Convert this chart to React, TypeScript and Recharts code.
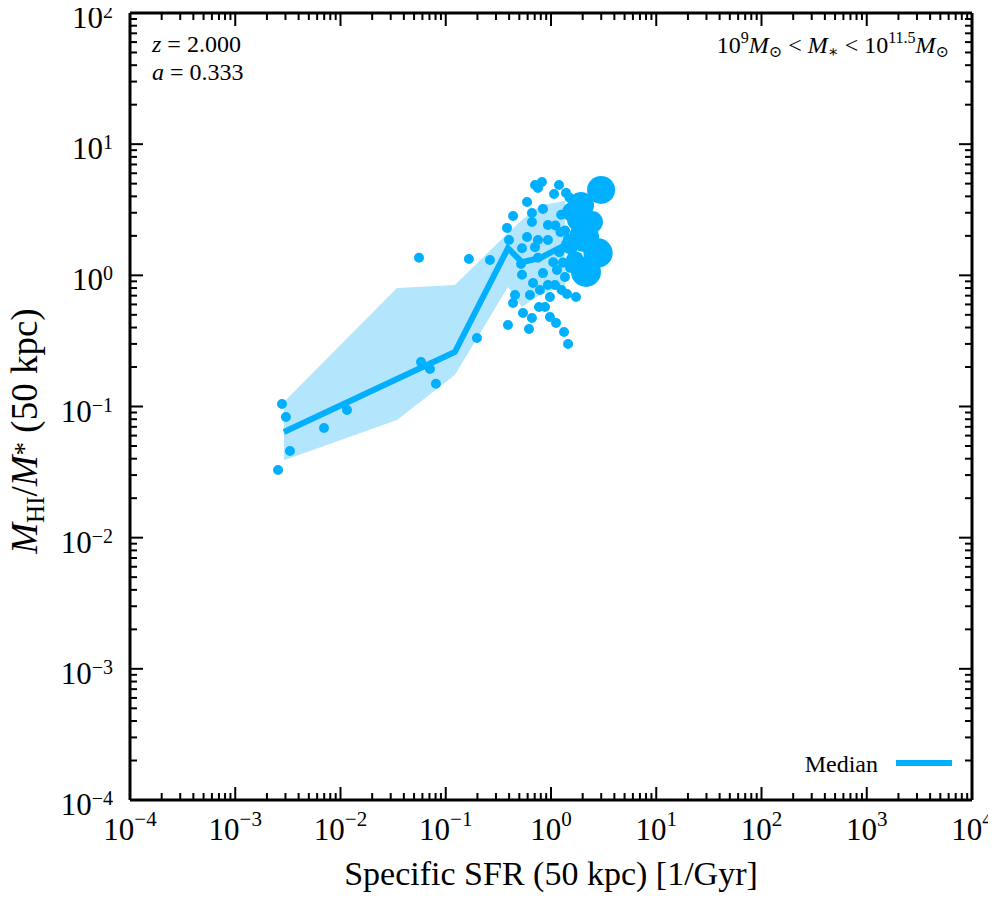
import React from 'react';
import { ComposedChart, XAxis, YAxis, ZAxis, Area, Line, Scatter } from 'recharts';

// ---- axis ticks ----
const X_MAJOR = [1e-4, 1e-3, 1e-2, 1e-1, 1, 10, 100, 1000, 10000];
const Y_MAJOR = [1e-4, 1e-3, 1e-2, 1e-1, 1, 10, 100];
const MINOR_MULT = [2, 3, 4, 5, 6, 7, 8, 9];

// ---- median and 16-84 band ----
const MEDIAN_SSFR = [0.0029, 0.0344, 0.122, 0.39, 0.53, 0.79, 1.36];
const MEDIAN_HI = [0.064, 0.162, 0.26, 1.61, 1.26, 1.36, 1.7];
const BAND_LO = [0.039, 0.079, 0.174, 0.815, 0.574, 0.71, 0.84];
const BAND_HI = [0.108, 0.8, 0.843, 2.1, 2.64, 3.4, 3.7];

// ---- individual galaxies ----
const GAL_SSFR = [
  0.00278, 0.00303, 0.00331, 0.00255, 0.00697, 0.01153, 0.0582, 0.0708, 0.0807, 0.0557,
  0.166, 0.263, 0.198, 0.399, 0.39, 0.436, 0.705, 0.82, 0.752, 1.191,
  1.069, 1.389, 0.592, 0.436, 0.659, 0.839, 0.659, 0.382, 0.592, 0.53,
  0.752, 0.935, 0.705, 0.519, 0.752, 0.839, 0.53, 1.14, 1.358, 0.675,
  0.935, 0.785, 1.091, 0.631, 0.455, 0.977, 1.419, 1.728, 0.769, 0.877,
  0.542, 0.659, 0.977, 1.116, 0.618, 1.33, 1.452, 1.25, 1.36, 1.2,
  1.3, 1.1, 1.5, 1.45, 0.935, 1.23, 1.05, 1.26, 1.517,
  1.585, 1.517, 2.45, 1.69,
  2.99, 1.928, 1.806, 2.06, 2.8, 2.15,
];
const GAL_HI = [
  0.1045, 0.0832, 0.0458, 0.0328, 0.0686, 0.094, 0.218, 0.193, 0.149, 1.36,
  1.33, 1.31, 0.333, 1.86, 0.418, 0.615, 4.89, 5.15, 4.63, 4.89,
  4.17, 4.25, 3.62, 2.83, 2.99, 3.21, 2.55, 2.3, 1.96, 1.61,
  1.86, 1.86, 1.64, 1.22, 1.36, 1.04, 1.01, 1.1, 0.97, 0.875,
  0.843, 0.773, 0.843, 0.708, 0.708, 0.684, 0.721, 0.684, 0.574, 0.574,
  0.516, 0.473, 0.481, 0.434, 0.39, 0.37, 0.3, 2.9, 2.2, 1.5,
  1.25, 2.4, 3.9, 1.9, 2.42, 2.14, 1.26, 0.773, 1.14,
  3.04, 1.7, 2.55, 1.31,
  4.48, 3.44, 2.64, 1.96, 1.48, 1.06,
];
const GAL_WEIGHT = [
  1, 1, 1, 1, 1, 1, 1, 1, 1, 1,
  1, 1, 1, 1, 1, 1, 1, 1, 1, 1,
  1, 1, 1, 1, 1, 1, 1, 1, 1, 1,
  1, 1, 1, 1, 1, 1, 1, 1, 1, 1,
  1, 1, 1, 1, 1, 1, 1, 1, 1, 1,
  1, 1, 1, 1, 1, 1, 1, 1, 1, 1,
  1, 1, 1, 1, 1, 1, 1, 1, 1,
  4.4, 3.5, 5.3, 3.5,
  8.7, 7.5, 5.3, 10, 9.5, 10,
];

const medianData = MEDIAN_SSFR.map((x, i) => ({ x, y: MEDIAN_HI[i] }));
const bandData = MEDIAN_SSFR.map((x, i) => ({ x, band: [BAND_LO[i], BAND_HI[i]] }));
const galaxyData = GAL_SSFR.map((x, i) => ({ x, y: GAL_HI[i], z: GAL_WEIGHT[i] }));

const withMinor = (major: number[]) => {
  const out: number[] = [];
  major.forEach((m, i) => {
    out.push(m);
    if (i < major.length - 1) MINOR_MULT.forEach((k) => out.push(m * k));
  });
  return out;
};
const X_TICKS = withMinor(X_MAJOR);
const Y_TICKS = withMinor(Y_MAJOR);

const DOT = '#00B0FF';
const BAND = '#B3E5FC';
const FONT = '"Liberation Serif", "DejaVu Serif", "Times New Roman", serif';
const MAJOR_LEN = 13;
const MINOR_LEN = 7;

const isMajor = (v: number) => {
  const l = Math.log10(v);
  return Math.abs(l - Math.round(l)) < 1e-6;
};
const expStr = (v: number) => {
  const n = Math.round(Math.log10(v));
  return n < 0 ? '\u2212' + Math.abs(n) : String(n);
};

const PowLabel = ({ x, y, v, anchor, rise, sup }: any) => (
  <text x={x} y={y} textAnchor={anchor} fontFamily={FONT} fontSize={31} fill="#000">
    10
    <tspan dy={-rise} fontSize={sup}>
      {expStr(v)}
    </tspan>
  </text>
);

const BottomTick = (props: any) => {
  const { x, y, payload } = props;
  const v = payload.value;
  const major = isMajor(v);
  return (
    <g>
      <line x1={x} x2={x} y1={y} y2={y - (major ? MAJOR_LEN : MINOR_LEN)} stroke="#000" strokeWidth={2} />
      {major && <PowLabel x={x} y={y + 40} v={v} anchor="middle" rise={14} sup={21} />}
    </g>
  );
};
const TopTick = (props: any) => {
  const { x, y, payload } = props;
  const major = isMajor(payload.value);
  return <line x1={x} x2={x} y1={y} y2={y + (major ? MAJOR_LEN : MINOR_LEN)} stroke="#000" strokeWidth={2} />;
};
const LeftTick = (props: any) => {
  const { x, y, payload } = props;
  const v = payload.value;
  const major = isMajor(v);
  return (
    <g>
      <line x1={x} x2={x + (major ? MAJOR_LEN : MINOR_LEN)} y1={y} y2={y} stroke="#000" strokeWidth={2} />
      {major && <PowLabel x={x - 17} y={y + 15} v={v} anchor="end" rise={10} sup={20} />}
    </g>
  );
};
const RightTick = (props: any) => {
  const { x, y, payload } = props;
  const major = isMajor(payload.value);
  return <line x1={x} x2={x - (major ? MAJOR_LEN : MINOR_LEN)} y1={y} y2={y} stroke="#000" strokeWidth={2} />;
};

const W = 988;
const H = 884;
const AXIS_LINE = { stroke: '#000', strokeWidth: 3 };

export default function App() {
  return (
    <div style={{ position: 'relative', width: W, height: H, background: '#fff' }}>
      <style>{`.recharts-surface{overflow:visible !important;} .recharts-wrapper{overflow:visible !important;}`}</style>
      <ComposedChart width={W} height={H} margin={{ top: 4, right: 23, bottom: 91, left: 121 }}>
        <XAxis
          xAxisId="main"
          dataKey="x"
          type="number"
          scale="log"
          domain={[1e-4, 1e4]}
          ticks={X_TICKS}
          interval={0}
          height={1}
          tickSize={0}
          tickMargin={0}
          tickLine={false}
          axisLine={AXIS_LINE}
          tick={<BottomTick />}
          allowDataOverflow
        />
        <XAxis
          xAxisId="top"
          orientation="top"
          dataKey="x"
          type="number"
          scale="log"
          domain={[1e-4, 1e4]}
          ticks={X_TICKS}
          interval={0}
          height={1}
          tickSize={0}
          tickMargin={0}
          tickLine={false}
          axisLine={AXIS_LINE}
          tick={<TopTick />}
          allowDataOverflow
        />
        <YAxis
          yAxisId="main"
          type="number"
          scale="log"
          domain={[1e-4, 100]}
          ticks={Y_TICKS}
          interval={0}
          width={1}
          tickSize={0}
          tickMargin={0}
          tickLine={false}
          axisLine={AXIS_LINE}
          tick={<LeftTick />}
          allowDataOverflow
        />
        <YAxis
          yAxisId="right"
          orientation="right"
          type="number"
          scale="log"
          domain={[1e-4, 100]}
          ticks={Y_TICKS}
          interval={0}
          width={1}
          tickSize={0}
          tickMargin={0}
          tickLine={false}
          axisLine={AXIS_LINE}
          tick={<RightTick />}
          allowDataOverflow
        />
        <ZAxis dataKey="z" type="number" domain={[1, 10]} range={[78.5, 707]} />
        <Area
          xAxisId="main"
          yAxisId="main"
          data={bandData}
          dataKey="band"
          type="linear"
          stroke="none"
          fill={BAND}
          fillOpacity={1}
          isAnimationActive={false}
          dot={false}
          activeDot={false}
        />
        <Line
          xAxisId="main"
          yAxisId="main"
          data={medianData}
          dataKey="y"
          type="linear"
          stroke={DOT}
          strokeWidth={6}
          dot={false}
          activeDot={false}
          isAnimationActive={false}
        />
        <Scatter
          xAxisId="main"
          yAxisId="main"
          data={galaxyData}
          dataKey="y"
          fill={DOT}
          shape="circle"
          isAnimationActive={false}
        />
      </ComposedChart>
      <svg
        width={W}
        height={H}
        style={{ position: 'absolute', left: 0, top: 0, pointerEvents: 'none', overflow: 'visible' }}
        fontFamily={FONT}
      >
        <text x={543} y={877} textAnchor="middle" fontSize={34} fill="#000">
          Specific SFR (50 kpc) [1/Gyr]
        </text>
        <text x={29} y={423} transform="rotate(-90 29 423)" textAnchor="middle" fontSize={37} fill="#000">
          <tspan fontStyle="italic">M</tspan>
          <tspan fontSize={25} dy={7}>HI</tspan>
          <tspan dy={-7}>/</tspan>
          <tspan fontStyle="italic">M</tspan>
          <tspan fontSize={27} dy={-4}>*</tspan>
          <tspan dy={4}> (50 kpc)</tspan>
        </text>
        <text x={144} y={44} fontSize={24} fill="#000">
          <tspan fontStyle="italic">z</tspan>
          <tspan> = 2.000</tspan>
        </text>
        <text x={144} y={72} fontSize={24} fill="#000">
          <tspan fontStyle="italic">a</tspan>
          <tspan> = 0.333</tspan>
        </text>
        <text x={941} y={45} textAnchor="end" fontSize={24} fill="#000">
          <tspan>10</tspan>
          <tspan fontSize={16} dy={-10}>9</tspan>
          <tspan dy={10} fontStyle="italic">M</tspan>
          <tspan fontSize={16} dy={4}>⊙</tspan>
          <tspan dy={-4}> &lt; </tspan>
          <tspan fontStyle="italic">M</tspan>
          <tspan fontSize={16} dy={4}>∗</tspan>
          <tspan dy={-4}> &lt; 10</tspan>
          <tspan fontSize={16} dy={-10}>11.5</tspan>
          <tspan dy={10} fontStyle="italic">M</tspan>
          <tspan fontSize={16} dy={4}>⊙</tspan>
        </text>
        <text x={870} y={764} textAnchor="end" fontSize={24} fill="#000">
          Median
        </text>
        <line x1={888} x2={944} y1={755} y2={755} stroke={DOT} strokeWidth={6} />
      </svg>
    </div>
  );
}
